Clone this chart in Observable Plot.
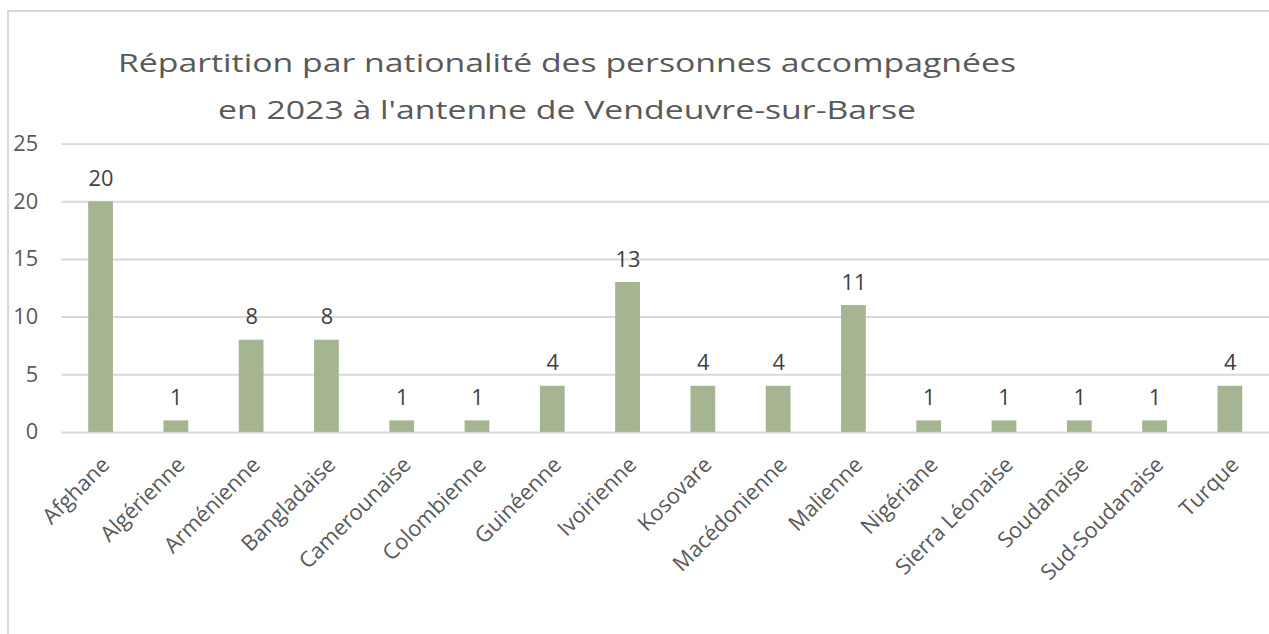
<!DOCTYPE html>
<html>
<head>
<meta charset="utf-8">
<script src="https://cdn.jsdelivr.net/npm/d3@7"></script>
<script src="https://cdn.jsdelivr.net/npm/@observablehq/plot@0.6"></script>
<style>
  html, body { margin: 0; padding: 0; background: #ffffff; overflow: hidden; width: 1269px; height: 634px; }
  #wrap { position: relative; width: 1269px; height: 634px; overflow: hidden; font-family: 'Open Sans', sans-serif; }
  #frame { position: absolute; left: 7px; top: 10px; width: 1400px; height: 800px; border: 2px solid #d9d9d9; box-sizing: border-box; }
  #title { position: absolute; left: 0; top: 39px; width: 1134px; text-align: center; font-size: 26px; line-height: 47px; color: #595959; transform: scaleX(1.3); transform-origin: 50% 50%; white-space: nowrap; }
  #chart { position: absolute; left: 0; top: 0; }
</style>
</head>
<body>
<div id="wrap">
  <div id="frame"></div>
  <div id="title">Répartition par nationalité des personnes accompagnées<br>en 2023 à l'antenne de Vendeuvre-sur-Barse</div>
  <div id="chart"></div>
</div>
<script>
const categories = ["Afghane","Algérienne","Arménienne","Bangladaise","Camerounaise","Colombienne","Guinéenne","Ivoirienne","Kosovare","Macédonienne","Malienne","Nigériane","Sierra Léonaise","Soudanaise","Sud-Soudanaise","Turque"];
const values = [20,1,8,8,1,1,4,13,4,4,11,1,1,1,1,4];
const yTicks = [0,5,10,15,20,25];

const data = categories.map((name, i) => ({name, value: values[i]}));

const chart = Plot.plot({
  width: 1281,
  height: 634,
  marginLeft: 62,
  marginRight: 0,
  marginTop: 145,
  marginBottom: 198,
  x: {domain: categories, paddingInner: 0.67, paddingOuter: 0.335, axis: null},
  y: {domain: [0, 25], axis: null},
  style: {fontFamily: "'Open Sans', sans-serif", fontSize: "20px", color: "#595959", background: "transparent", overflow: "visible"},
  marks: [
    Plot.ruleY(yTicks, {stroke: "#d9d9d9", strokeWidth: 2}),
    Plot.barY(data, {x: "name", y: "value", fill: "#a5b592"}),
    Plot.axisY(yTicks, {tickSize: 0, tickPadding: 24, fontSize: 22, label: null, tickFormat: d => String(d)}),
    Plot.text(data, {x: "name", y: "value", text: d => String(d.value), dy: -16, lineAnchor: "bottom", fontSize: 22, fill: "#404040"}),
    Plot.text(data, {x: "name", y: d => 0, text: "name", rotate: -45, textAnchor: "end", lineAnchor: "middle", dx: 5, dy: 29, fontSize: 22, fill: "#595959"})
  ]
});
document.getElementById("chart").appendChild(chart);
</script>
</body>
</html>
